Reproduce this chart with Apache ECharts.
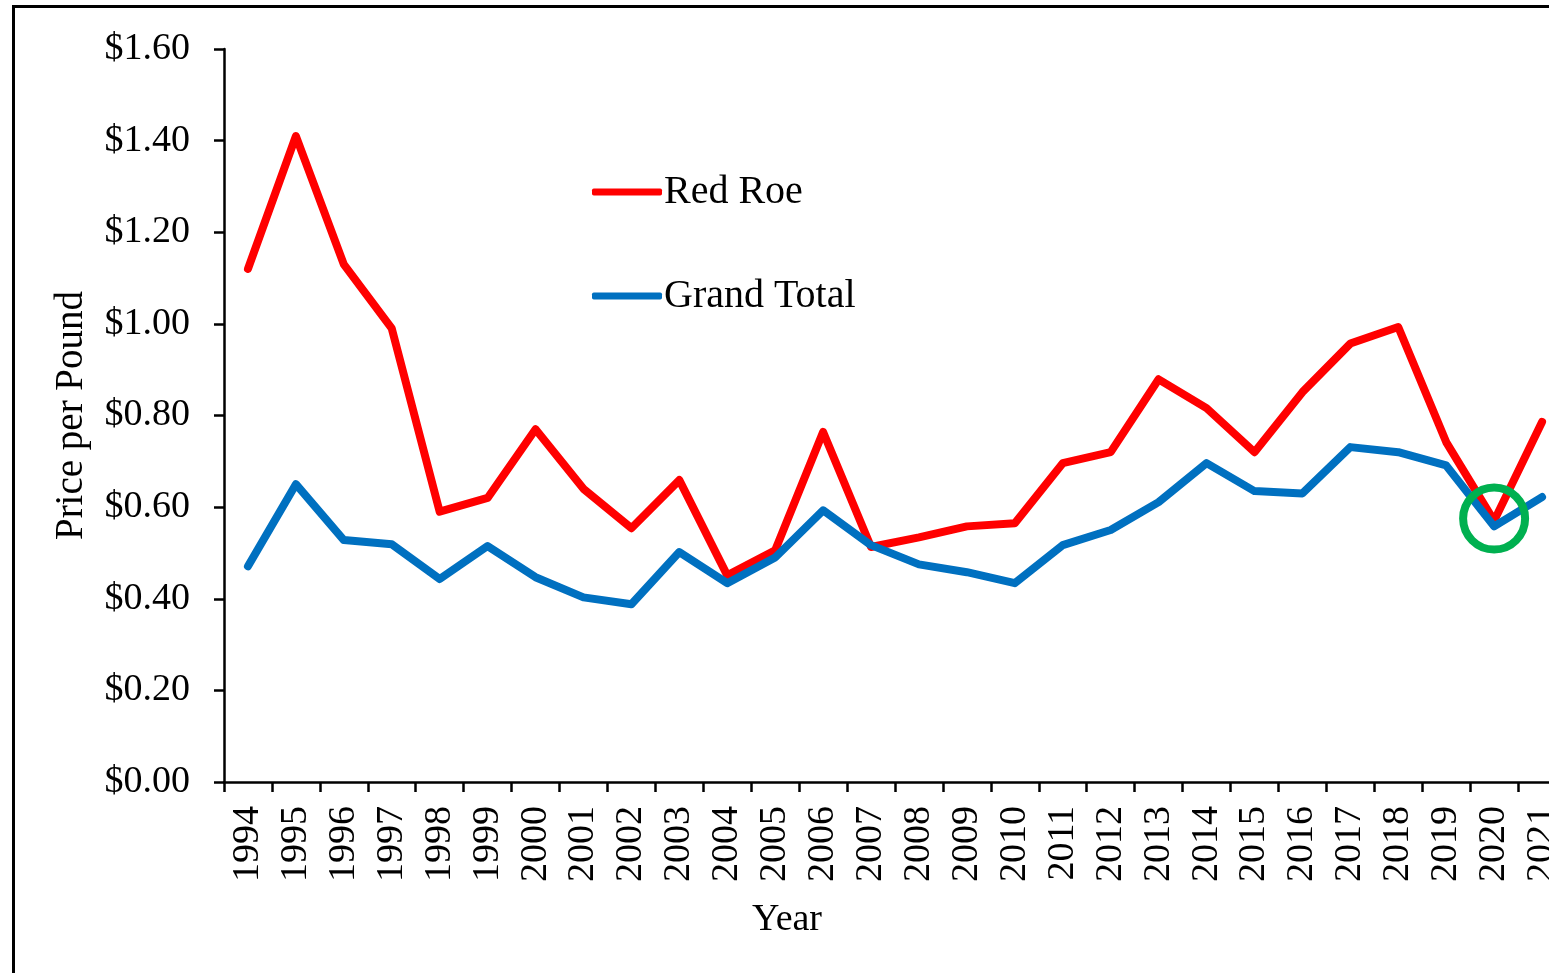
<!DOCTYPE html>
<html>
<head>
<meta charset="utf-8">
<title>Price per Pound</title>
<script src="https://cdn.jsdelivr.net/npm/echarts@6/dist/echarts.min.js"></script>
<style>
  html, body { margin: 0; padding: 0; background: #fff; }
  #chart { width: 1549px; height: 973px; }
</style>
</head>
<body>
<div id="chart"></div>
<script>
// data
var years = ['1994', '1995', '1996', '1997', '1998', '1999', '2000', '2001', '2002', '2003',
  '2004', '2005', '2006', '2007', '2008', '2009', '2010', '2011', '2012', '2013',
  '2014', '2015', '2016', '2017', '2018', '2019', '2020', '2021']
var redRoe = [1.12, 1.41, 1.13, 0.99, 0.59, 0.62, 0.77, 0.64, 0.554, 0.659,
  0.451, 0.506, 0.764, 0.513, 0.534, 0.558, 0.565, 0.696, 0.72, 0.879,
  0.816, 0.72, 0.851, 0.957, 0.993, 0.742, 0.57, 0.786]
var grandTotal = [0.471, 0.65, 0.528, 0.519, 0.443, 0.515, 0.447, 0.403, 0.388, 0.502,
  0.434, 0.49, 0.593, 0.517, 0.475, 0.458, 0.434, 0.517, 0.55, 0.611,
  0.696, 0.635, 0.63, 0.731, 0.72, 0.691, 0.558, 0.622]
var yTicks = { min: 0, max: 1.6, interval: 0.2 }
var highlight = ['2020', 0.575] // green ring

var font = "'Liberation Serif', 'Times New Roman', serif"

var chart = echarts.init(document.getElementById('chart'), null, { renderer: 'canvas' })

chart.setOption({
  animation: false,
  backgroundColor: '#fff',
  textStyle: { fontFamily: font, color: '#000' },
  graphic: [
    {
      type: 'rect',
      shape: { x: 13.5, y: 6.5, width: 1700, height: 1100 },
      style: { fill: 'none', stroke: '#000', lineWidth: 3 },
      z: 100
    }
  ],
  // plot runs past the right edge of the picture, as in the original
  grid: { left: 224, width: 1342, top: 49, bottom: 191, outerBoundsMode: 'none' },
  legend: {
    orient: 'vertical',
    left: 587,
    top: 167,
    itemWidth: 70,
    itemHeight: 7,
    itemGap: 64,
    icon: 'roundRect',
    textStyle: { fontFamily: font, fontSize: 40, color: '#000', lineHeight: 40, padding: [0, 0, 0, -3] },
    data: ['Red Roe', 'Grand Total']
  },
  xAxis: {
    type: 'category',
    data: years,
    boundaryGap: true,
    name: 'Year',
    nameLocation: 'middle',
    nameGap: 119,
    nameTextStyle: { fontFamily: font, fontSize: 38, color: '#000', padding: [0, 216, 0, 0] },
    axisLine: { lineStyle: { color: '#000', width: 2.5 } },
    axisTick: { show: true, inside: false, length: 10, lineStyle: { color: '#000', width: 2.5 } },
    axisLabel: {
      rotate: 90,
      margin: 24,
      interval: 0,
      fontFamily: font,
      fontSize: 38,
      color: '#000'
    },
    splitLine: { show: false }
  },
  yAxis: {
    type: 'value',
    min: yTicks.min,
    max: yTicks.max,
    interval: yTicks.interval,
    name: 'Price per Pound',
    nameLocation: 'middle',
    nameRotate: 90,
    nameGap: 133,
    nameTextStyle: { fontFamily: font, fontSize: 39, color: '#000' },
    axisLine: { show: true, lineStyle: { color: '#000', width: 2.5 } },
    axisTick: { show: true, inside: false, length: 10, lineStyle: { color: '#000', width: 2.5 } },
    axisLabel: {
      margin: 34,
      fontFamily: font,
      fontSize: 38,
      color: '#000',
      formatter: function (v) { return '$' + v.toFixed(2) }
    },
    splitLine: { show: false }
  },
  series: [
    {
      name: 'Red Roe',
      type: 'line',
      data: redRoe,
      showSymbol: false,
      symbol: 'none',
      color: '#ff0000',
      lineStyle: { color: '#ff0000', width: 8, cap: 'round', join: 'round' },
      z: 3
    },
    {
      name: 'Grand Total',
      type: 'line',
      data: grandTotal,
      showSymbol: false,
      symbol: 'none',
      color: '#0070c0',
      lineStyle: { color: '#0070c0', width: 8, cap: 'round', join: 'round' },
      z: 4,
      markPoint: {
        silent: true,
        symbol: 'circle',
        symbolSize: 62,
        label: { show: false },
        itemStyle: { color: 'rgba(0,0,0,0)', borderColor: '#00b050', borderWidth: 8 },
        data: [{ coord: highlight }]
      }
    }
  ]
})
</script>
</body>
</html>
